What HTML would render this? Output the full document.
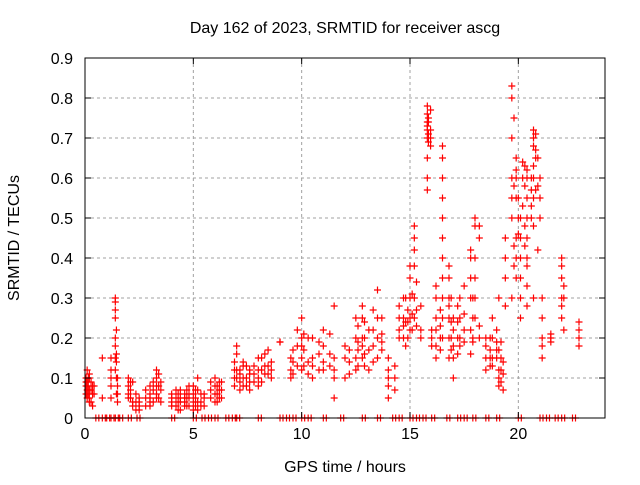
<!DOCTYPE html>
<html><head><meta charset="utf-8"><style>
body{margin:0;background:#fff}
svg text{font-family:"Liberation Sans",sans-serif;font-size:16px;fill:#000}
</style></head><body>
<svg id="chart" width="640" height="480">
<text x="345" y="33" text-anchor="middle">Day 162 of 2023, SRMTID for receiver ascg</text>
<text x="345" y="472" text-anchor="middle">GPS time / hours</text>
<text transform="translate(19,238) rotate(-90)" text-anchor="middle">SRMTID / TECUs</text>
<g id="grid"></g><g id="marks"></g><g id="axes"></g>
</svg>
<script>
const xTicks=[0,5,10,15,20];
const yTicks=[0,0.1,0.2,0.3,0.4,0.5,0.6,0.7,0.8,0.9];
const streakTimes=[0.05,0.2,0.35,0.8,1.2,1.4,1.5,2.0,2.2,2.5,3.0,3.3,3.5,4.0,4.4,4.8,5.2,5.5,6.0,6.3,7.0,7.3,7.6,8.0,8.3,8.6,9.0,9.5,9.8,10.0,10.5,11.0,11.5,12.0,12.5,12.8,13.1,13.5,14.0,14.5,14.8,15.0,15.2,15.5,15.8,16.0,16.2,16.5,16.8,17.0,17.3,17.8,18.0,18.5,18.8,19.1,19.4,19.7,19.9,20.1,20.4,20.7,20.9,21.1,21.5,22.0,22.8,
0.1,0.15,0.28,0.42,1.45,2.1,2.35,2.8,3.15,3.4,4.2,4.3,4.6,4.7,5.0,5.1,5.35,5.8,6.1,6.2,6.9,7.15,7.45,7.8,8.15,8.45,9.6,10.1,10.3,10.8,11.3,12.2,12.6,12.9,13.3,13.7,14.3,14.7,14.9,15.1,15.3,15.85,15.95,16.4,16.9,17.2,17.5,17.9,18.2,18.7,19.0,19.2,19.3,19.8,20.0,20.2,20.3,20.6,20.8,21.0,22.1];
const streakValues=[[0.1,0.08,0.06,0.09],[0.05,0.11,0.07,0.04,0.1],[0.08,0.06,0.03],[0.15,0.05],[0.05,0.08,0.1,0.12,0.15],[0.3,0.29,0.27,0.25,0.2,0.18,0.15,0.12],[0.1,0.08,0.04,0.06],[0.1,0.08,0.06,0.05],[0.04,0.03,0.09],[0.05,0.03,0.02,0.04],[0.06,0.04,0.03,0.05,0.08],[0.12,0.1,0.08,0.06,0.05],[0.04,0.07,0.09],[0.06,0.04,0.03,0.05],[0.07,0.02,0.05,0.04],[0.06,0.03,0.05,0.08],[0.04,0.02,0.07,0.1],[0.05,0.03,0.06],[0.08,0.06,0.04,0.1],[0.07,0.09,0.05],[0.12,0.16,0.1,0.18],[0.14,0.1,0.08,0.13],[0.07,0.12,0.09,0.11],[0.08,0.15,0.12,0.1],[0.13,0.16,0.11],[0.1,0.14,0.12],[0.19,0.19],[0.12,0.15,0.1],[0.22,0.18,0.13],[0.15,0.2,0.25,0.18,0.12],[0.1,0.15,0.2,0.13],[0.12,0.18,0.22,0.14],[0.28,0.15,0.1,0.05,0.12],[0.1,0.15,0.18],[0.12,0.2,0.25,0.15],[0.15,0.2,0.25,0.28,0.18],[0.12,0.17,0.22],[0.2,0.25,0.32,0.15],[0.15,0.12,0.1,0.08,0.05],[0.2,0.25,0.28,0.22],[0.18,0.24,0.3],[0.25,0.3,0.35,0.38,0.22],[0.48,0.45,0.42,0.38,0.3,0.25],[0.28,0.22,0.2],[0.6,0.65,0.7,0.72,0.74,0.76,0.78,0.73,0.57],[0.2,0.22,0.18],[0.15,0.18,0.22,0.25,0.3,0.33],[0.68,0.65,0.6,0.55,0.5,0.45,0.4,0.35,0.3,0.25,0.2],[0.2,0.25,0.3,0.35,0.38,0.28,0.15],[0.18,0.22,0.25,0.15,0.1],[0.3,0.25,0.2,0.18],[0.4,0.42,0.35,0.3,0.22,0.16],[0.5,0.48,0.4,0.35,0.3,0.25],[0.15,0.2,0.18,0.12],[0.13,0.15,0.2,0.25],[0.3,0.1,0.08,0.12,0.17],[0.35,0.4,0.45,0.28],[0.55,0.6,0.7,0.8,0.83,0.5,0.3],[0.6,0.62,0.65,0.55,0.45,0.4,0.35],[0.5,0.45,0.4,0.35,0.3,0.25],[0.62,0.6,0.55,0.5,0.45,0.4,0.38,0.33,0.28],[0.68,0.7,0.72,0.63,0.6,0.55,0.48,0.3],[0.65,0.58,0.42],[0.3,0.25,0.2,0.18,0.15],[0.2,0.21,0.19],[0.38,0.35,0.3,0.28,0.25,0.4],[0.22,0.2,0.24,0.18],
[0.07,0.05,0.09,0.12],[0.06,0.08,0.1],[0.04,0.07,0.09],[0.06,0.08],[0.22,0.16,0.14,0.1,0.06],[0.07,0.05,0.09],[0.04,0.06,0.02],[0.05,0.07,0.03],[0.09,0.07,0.04],[0.11,0.08,0.05],[0.05,0.03,0.07],[0.04,0.06,0.02],[0.05,0.03,0.06,0.04],[0.07,0.03,0.05],[0.04,0.06,0.02,0.08],[0.05,0.03,0.07],[0.04,0.06,0.03],[0.07,0.05,0.09],[0.06,0.04,0.08],[0.09,0.05,0.07],[0.14,0.1,0.12,0.08],[0.11,0.07,0.09,0.12],[0.08,0.1,0.13],[0.11,0.13,0.09],[0.12,0.15,0.09],[0.13,0.11,0.17],[0.14,0.11,0.17],[0.17,0.13,0.21],[0.14,0.2,0.11],[0.16,0.12,0.19],[0.13,0.16,0.21],[0.11,0.14,0.17],[0.17,0.23,0.19,0.13],[0.16,0.2,0.24,0.13],[0.18,0.22,0.27,0.14],[0.17,0.21,0.25,0.19],[0.1,0.13,0.07],[0.2,0.25,0.3,0.23],[0.24,0.2,0.27],[0.22,0.26,0.31],[0.27,0.23,0.34],[0.75,0.71,0.69,0.74],[0.77,0.72,0.7,0.68],[0.2,0.17,0.23,0.27],[0.24,0.2,0.17,0.3],[0.2,0.16,0.24,0.28],[0.22,0.26,0.33,0.19],[0.3,0.25,0.2,0.19],[0.45,0.48,0.2,0.23],[0.15,0.17,0.2,0.13],[0.17,0.15,0.19,0.22],[0.12,0.09,0.15,0.19],[0.07,0.11,0.14],[0.75,0.58,0.38,0.43],[0.46,0.5,0.55],[0.6,0.64,0.53],[0.58,0.63,0.48,0.43],[0.6,0.57,0.5,0.53],[0.67,0.71,0.65,0.57],[0.6,0.55,0.5],[0.33,0.3,0.22]];
const zeroTimes=[0.5,0.8,1.0,1.2,1.4,1.6,2.0,2.4,4.0,5.0,5.4,5.7,6.0,6.5,6.8,7.0,8.0,9.0,9.3,9.6,10.0,10.3,11.0,11.8,12.8,13.5,14.2,14.5,15.0,15.3,15.6,16.0,16.7,17.2,17.5,17.9,18.5,19.0,20.0,21.0,21.3,21.7,22.0,22.5];
const X0=85,X1=605,Y0=418,Y1=58;
const xs=t=>X0+(X1-X0)*t/24, ys=v=>Y0-(Y0-Y1)*v/0.9;
const NS="http://www.w3.org/2000/svg";
function mk(tag,attrs,parent){const e=document.createElementNS(NS,tag);for(const k in attrs)e.setAttribute(k,attrs[k]);parent.appendChild(e);return e;}
const grid=document.getElementById('grid'),axes=document.getElementById('axes'),marks=document.getElementById('marks');
xTicks.forEach(t=>{const x=xs(t);
 const g=mk('line',{x1:x,x2:x,y1:Y1,y2:Y0,stroke:'#a0a0a0','stroke-dasharray':'3,3'},grid);
 
 
 mk('line',{x1:x,x2:x,y1:Y0,y2:Y0-6,stroke:'#000'},axes);
 mk('line',{x1:x,x2:x,y1:Y1,y2:Y1+6,stroke:'#000'},axes);
 const tx=mk('text',{x:x,y:Y0+21,'text-anchor':'middle'},axes);tx.textContent=t;
 
 
});
yTicks.forEach(v=>{const y=ys(v);
 const g=mk('line',{x1:X0,x2:X1,y1:y,y2:y,stroke:'#a0a0a0','stroke-dasharray':'3,3'},grid);
 
 
 mk('line',{x1:X0,x2:X0+6,y1:y,y2:y,stroke:'#000'},axes);
 mk('line',{x1:X1,x2:X1-6,y1:y,y2:y,stroke:'#000'},axes);
 const tx=mk('text',{x:X0-12,y:y+6,'text-anchor':'end'},axes);tx.textContent=v===0?'0':String(v);
 
 
});
const frame=mk('rect',{x:X0,y:Y1,width:X1-X0,height:Y0-Y1,fill:'none',stroke:'#000'},axes);


function plus(x,y){const p=mk('path',{d:`M${x-3.5},${y}h7M${x},${y-3.5}v7`,stroke:'#f00','stroke-width':1.2,fill:'none'},marks);
 
 }
streakTimes.forEach((t,i)=>{streakValues[i].forEach(v=>plus(xs(t),ys(v)));});
zeroTimes.forEach(t=>{plus(xs(t),ys(0));plus(xs(t)+3,ys(0));});
</script>
</body></html>
